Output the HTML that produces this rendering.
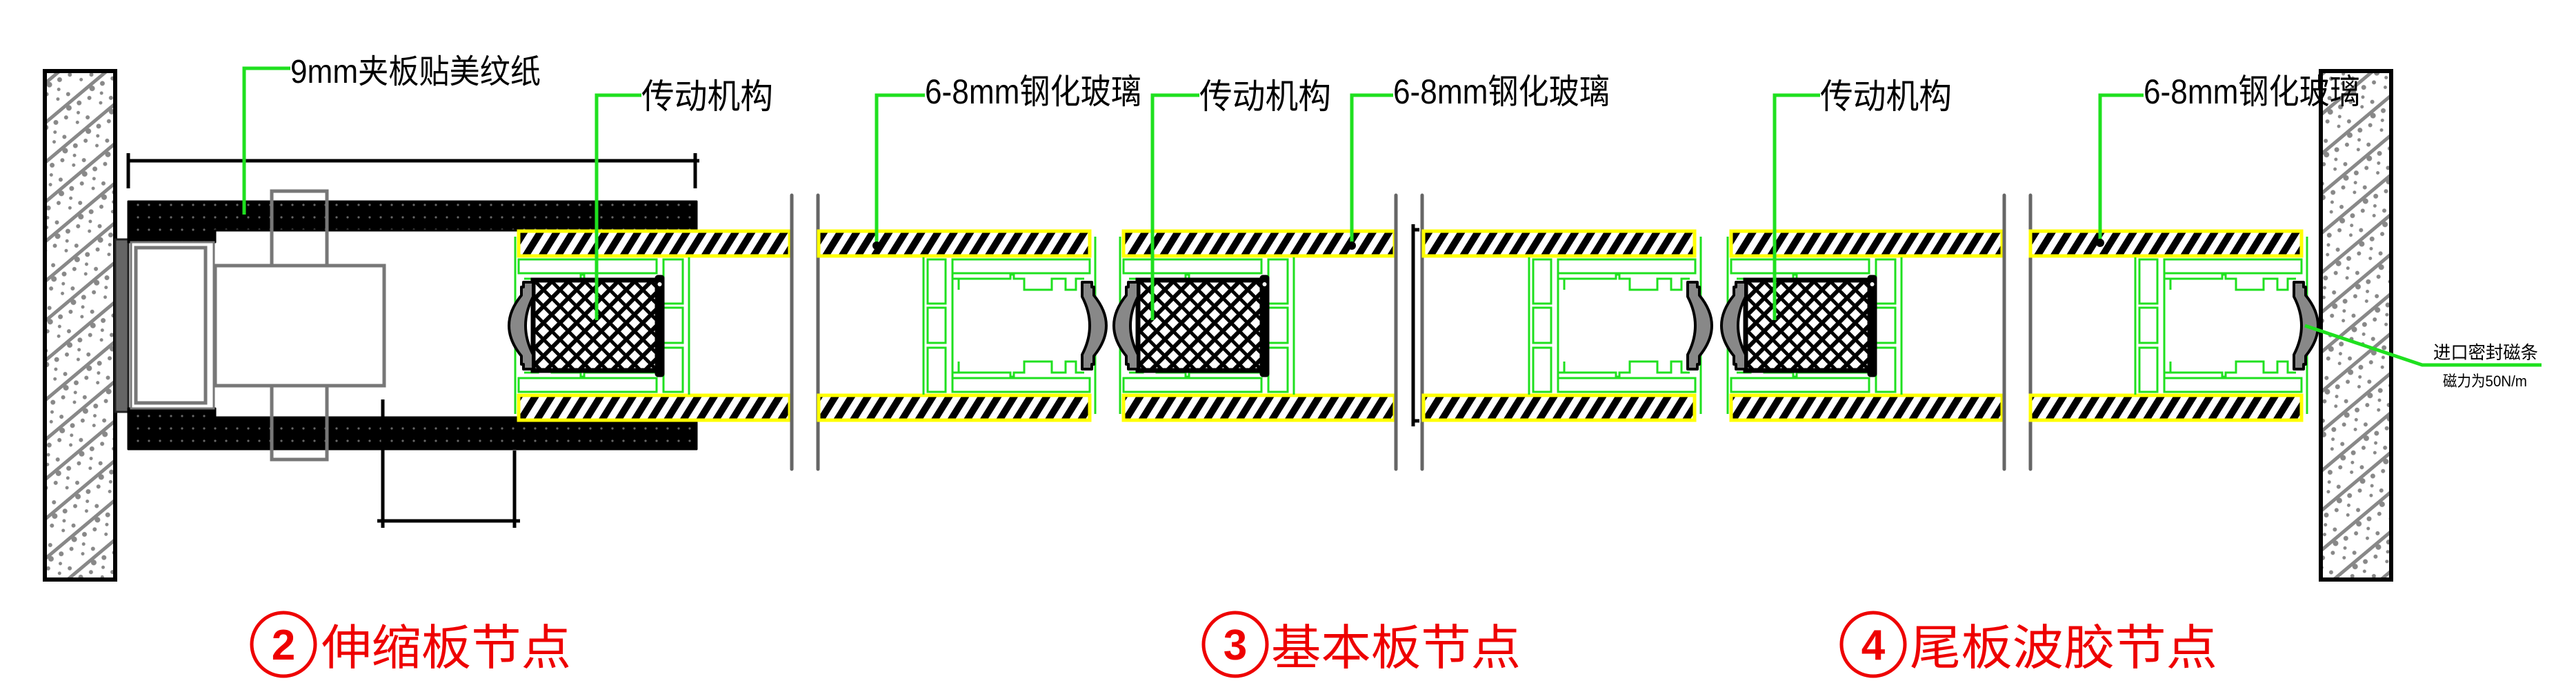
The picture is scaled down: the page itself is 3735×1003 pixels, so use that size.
<!DOCTYPE html>
<html><head><meta charset="utf-8"><style>
html,body{margin:0;padding:0;background:#fff}
svg{display:block}
text{font-family:"Liberation Sans","Noto Sans CJK SC",sans-serif}
</style></head><body>
<svg width="3735" height="1003" viewBox="0 0 3735 1003" xmlns="http://www.w3.org/2000/svg">
<defs>
<pattern id="hatch" patternUnits="userSpaceOnUse" width="20" height="20" patternTransform="rotate(32)">
<rect width="20" height="20" fill="#fff"/><rect width="10" height="20" fill="#000"/></pattern>
<pattern id="dots" patternUnits="userSpaceOnUse" width="16" height="18">
<rect width="16" height="18" fill="#000"/><circle cx="8" cy="9" r="1.6" fill="#666"/></pattern>
<pattern id="mesh" patternUnits="userSpaceOnUse" width="24" height="24">
<rect width="24" height="24" fill="#fff"/>
<path d="M-2,26 L26,-2 M-14,14 L14,-14 M10,38 L38,10" stroke="#000" stroke-width="6"/>
<path d="M-2,-2 L26,26 M-14,10 L14,38 M10,-14 L38,14" stroke="#000" stroke-width="5"/></pattern>
<pattern id="wall" patternUnits="userSpaceOnUse" width="44" height="44" patternTransform="rotate(-40)">
<rect width="44" height="44" fill="#fff"/>
<rect x="0" y="0" width="44" height="5" fill="#888"/>
<circle cx="8" cy="16" r="3" fill="#888"/><circle cx="26" cy="22" r="2.5" fill="#888"/>
<circle cx="36" cy="12" r="3.5" fill="#888"/><circle cx="16" cy="32" r="2.5" fill="#888"/>
<circle cx="32" cy="36" r="3" fill="#888"/><circle cx="20" cy="8" r="4" fill="#888"/></pattern>

<path id="seal" d="M0,409 L14,409 L14,416 L17,416 L17,428 Q35,450 35,472 Q35,494 17,516 L17,528 L14,528 L14,535 L0,535 L0,514 Q11,493 11,472 Q11,451 0,430 Z" fill="#888" stroke="#000" stroke-width="4" stroke-linejoin="round"/>

<g id="frameR" fill="none" stroke="#1fe01f" stroke-width="3">
<line x1="8" y1="343" x2="8" y2="600"/>
<line x1="-241" y1="373" x2="-241" y2="572"/>
<rect x="-235" y="376" width="26" height="64"/>
<rect x="-235" y="446" width="26" height="51"/>
<rect x="-235" y="504" width="26" height="64"/>
<rect x="-199" y="376" width="199" height="20"/>
<rect x="-199" y="548" width="199" height="20"/>
<line x1="-199" y1="396" x2="-199" y2="548"/>
<path d="M-199,404 H-115 V398 H-110 V404 H-95 V420 H-55 V404 H-35 V420 H-20 V404 H-8"/>
<path d="M-199,540 H-115 V546 H-110 V540 H-95 V524 H-55 V540 H-35 V524 H-20 V540 H-8"/>
<line x1="-190" y1="404" x2="-190" y2="420"/><line x1="-190" y1="524" x2="-190" y2="540"/>
</g>
<g id="unitR">
<use href="#frameR"/>
<use href="#seal" x="-11"/>
</g>
<g id="unitL">
<g fill="none" stroke="#1fe01f" stroke-width="3">
<line x1="-5" y1="343" x2="-5" y2="600"/>
<line x1="247" y1="373" x2="247" y2="572"/>
<rect x="210" y="376" width="28" height="64"/>
<rect x="210" y="446" width="28" height="51"/>
<rect x="210" y="504" width="28" height="64"/>
<rect x="0" y="376" width="200" height="20"/>
<rect x="0" y="548" width="200" height="20"/>
<path d="M8,404 H28 V420 H48 V404 H90 V398 H95 V404 H200"/>
<path d="M8,540 H28 V524 H48 V540 H90 V546 H95 V540 H200"/>
</g>
<rect x="21" y="406" width="180" height="131" fill="url(#mesh)" stroke="#000" stroke-width="7"/>
<rect x="199" y="400" width="11" height="145" fill="#000" stroke="#000" stroke-width="3" rx="3"/>
<circle cx="204.5" cy="412" r="3" fill="#fff"/>
<use href="#seal" transform="translate(21,0) scale(-1,1)"/>
</g>
<g id="glass">
<rect x="0" y="335" width="393" height="36" fill="url(#hatch)" stroke="#ffff00" stroke-width="5"/>
<rect x="0" y="573" width="393" height="36" fill="url(#hatch)" stroke="#ffff00" stroke-width="5"/>
</g>
<g id="gl2" stroke="#666" stroke-width="5" stroke-linecap="round">
<line x1="0" y1="283" x2="0" y2="680"/><line x1="38" y1="283" x2="38" y2="680"/></g>
</defs>

<!-- walls -->
<rect x="65" y="103" width="102" height="737" fill="url(#wall)" stroke="#000" stroke-width="6"/>
<rect x="3365" y="103" width="102" height="737" fill="url(#wall)" stroke="#000" stroke-width="6"/>

<!-- stretch section -->
<rect x="167" y="347" width="19" height="250" fill="#666" stroke="#222" stroke-width="3"/>
<path d="M186,292 H1010 V334 H312 V351 H186 Z" fill="url(#dots)" stroke="#000" stroke-width="3" stroke-linejoin="round"/>
<path d="M186,592 H312 V605 H1010 V651 H186 Z" fill="url(#dots)" stroke="#000" stroke-width="3" stroke-linejoin="round"/>
<rect x="190" y="351" width="120" height="241" fill="none" stroke="#777" stroke-width="3"/>
<rect x="197" y="359" width="101" height="225" fill="none" stroke="#777" stroke-width="5"/>
<rect x="394" y="277" width="80" height="389" fill="none" stroke="#777" stroke-width="5"/>
<rect x="312" y="385" width="245" height="174" fill="#fff" stroke="#777" stroke-width="5"/>
<g stroke="#000" stroke-width="5" fill="none">
<line x1="184" y1="233" x2="1014" y2="233"/>
<line x1="186" y1="222" x2="186" y2="273"/><line x1="1008" y1="222" x2="1008" y2="273"/>
<line x1="555" y1="579" x2="555" y2="765"/><line x1="746" y1="653" x2="746" y2="765"/>
<line x1="547" y1="755" x2="754" y2="755"/>
</g>
<use href="#glass" x="752"/>
<use href="#unitL" x="752"/>

<use href="#gl2" x="1148"/>
<use href="#glass" x="1187"/>
<use href="#unitR" x="1580"/>
<use href="#glass" x="1629"/>
<use href="#unitL" x="1629"/>
<use href="#gl2" x="2024"/>
<line x1="2049" y1="325" x2="2049" y2="618" stroke="#000" stroke-width="5"/>
<line x1="2049" y1="333" x2="2058" y2="333" stroke="#000" stroke-width="5"/><line x1="2049" y1="610" x2="2058" y2="610" stroke="#000" stroke-width="5"/>
<use href="#glass" x="2064"/>
<use href="#unitR" x="2458"/>
<use href="#glass" x="2510"/>
<use href="#unitL" x="2510"/>
<use href="#gl2" x="2906"/>
<use href="#glass" x="2944"/>
<use href="#unitR" x="3337"/>

<!-- leaders -->
<g stroke="#1fe01f" stroke-width="5" fill="none">
<path d="M421,99 H354 V311"/>
<path d="M930,138 H865 V464"/>
<path d="M1341,138 H1271 V354"/>
<path d="M1739,138 H1671 V464"/>
<path d="M2020,138 H1960 V354"/>
<path d="M2639,138 H2573 V464"/>
<path d="M3108,138 H3045 V350"/>
<path d="M3342,472 L3512,529 H3685"/>
</g>
<g fill="#000"><circle cx="1271" cy="356" r="6"/><circle cx="1960" cy="356" r="6"/><circle cx="3045" cy="352" r="6"/></g>

<!-- labels -->
<g fill="#000" font-size="50">
<text x="421" y="120" font-size="48" textLength="363" lengthAdjust="spacingAndGlyphs">9mm夹板贴美纹纸</text>
<text x="930" y="157" textLength="191" lengthAdjust="spacingAndGlyphs">传动机构</text>
<text x="1341" y="150" textLength="314" lengthAdjust="spacingAndGlyphs">6-8mm钢化玻璃</text>
<text x="1739" y="157" textLength="191" lengthAdjust="spacingAndGlyphs">传动机构</text>
<text x="2020" y="150" textLength="314" lengthAdjust="spacingAndGlyphs">6-8mm钢化玻璃</text>
<text x="2639" y="157" textLength="191" lengthAdjust="spacingAndGlyphs">传动机构</text>
<text x="3108" y="150" textLength="314" lengthAdjust="spacingAndGlyphs">6-8mm钢化玻璃</text>
<text x="3528" y="520" font-size="26" textLength="152" lengthAdjust="spacingAndGlyphs">进口密封磁条</text>
<text x="3542" y="560" font-size="22" textLength="122" lengthAdjust="spacingAndGlyphs">磁力为50N/m</text>
</g>

<!-- titles -->
<g fill="none" stroke="#e00" stroke-width="5">
<circle cx="411" cy="934" r="46"/><circle cx="1791" cy="934" r="46"/><circle cx="2716" cy="934" r="46"/>
</g>
<g fill="#e00">
<text x="411" y="956" font-size="62" font-weight="bold" text-anchor="middle">2</text>
<text x="1791" y="956" font-size="62" font-weight="bold" text-anchor="middle">3</text>
<text x="2716" y="956" font-size="62" font-weight="bold" text-anchor="middle">4</text>
<text x="466" y="963" font-size="70" textLength="362" lengthAdjust="spacingAndGlyphs">伸缩板节点</text>
<text x="1843" y="963" font-size="70" textLength="362" lengthAdjust="spacingAndGlyphs">基本板节点</text>
<text x="2769" y="963" font-size="70" textLength="446" lengthAdjust="spacingAndGlyphs">尾板波胶节点</text>
</g>
</svg>
</body></html>
